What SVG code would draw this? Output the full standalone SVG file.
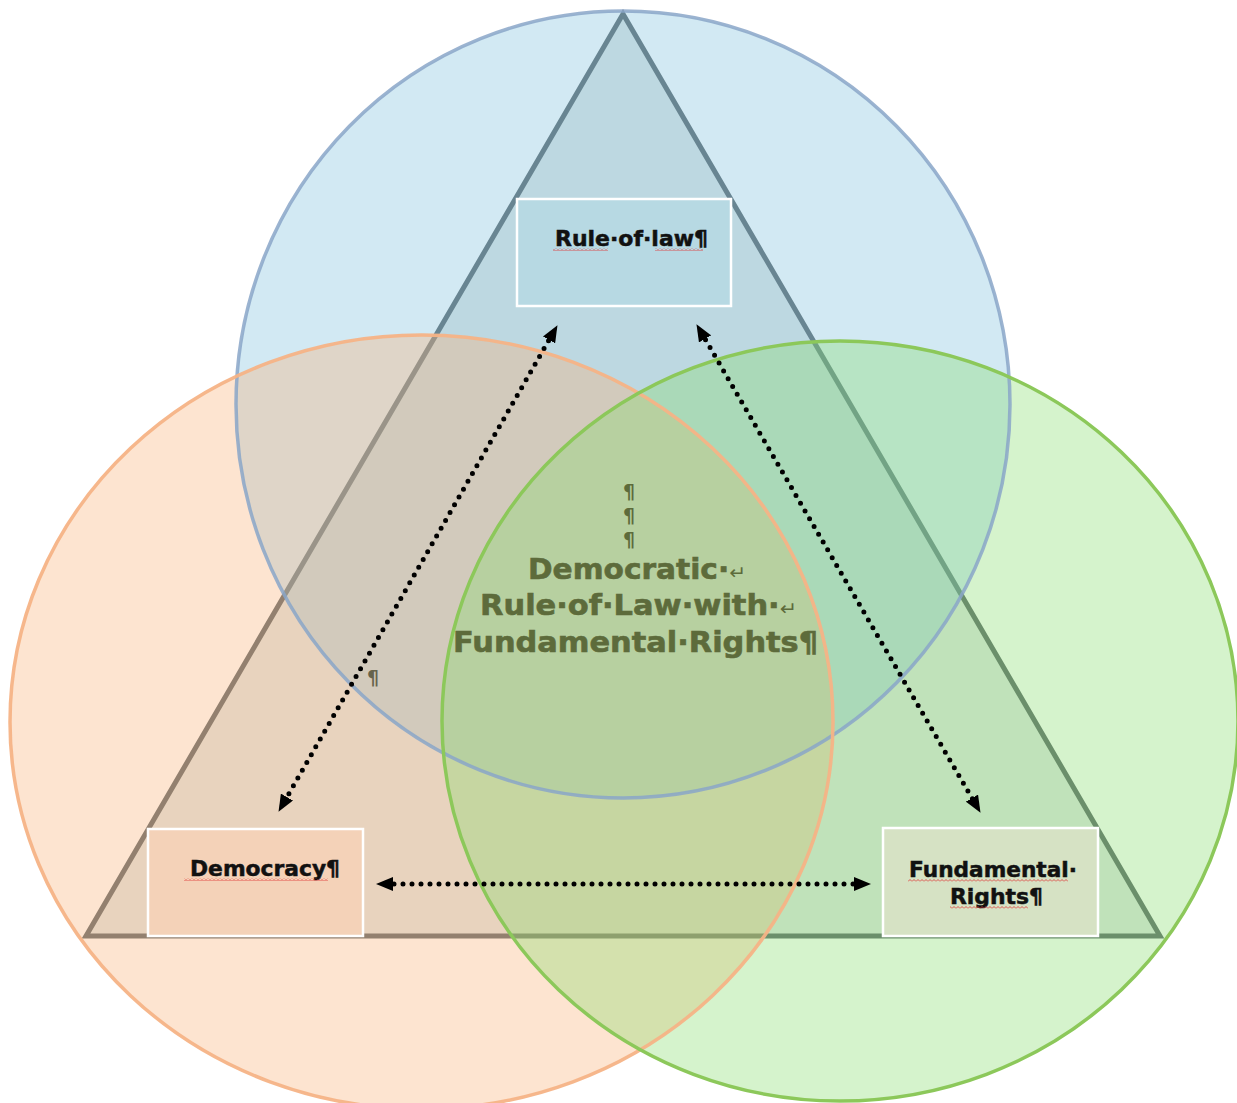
<svg xmlns="http://www.w3.org/2000/svg" width="1237" height="1103" viewBox="0 0 1237 1103">
  <style>
    .cfill { fill-opacity: 0.35; stroke: none; }
    .cline { fill: none; stroke-width: 3.5; }
    .box { stroke: #ffffff; stroke-width: 2.5; }
    .lbl { font-family: "DejaVu Sans", Verdana, sans-serif; font-weight: bold; font-size: 21px; fill: #111111; stroke: #111111; stroke-width: 0.5; }
    .ctr { font-family: "DejaVu Sans", Verdana, sans-serif; font-weight: bold; font-size: 28px; fill: #5d6b3b; stroke: #5d6b3b; stroke-width: 0.6; }
    .arr { font-weight: normal; font-size: 19px; stroke-width: 0; }
    .pil { font-family: "DejaVu Sans", Verdana, sans-serif; font-weight: bold; font-size: 19px; fill: #5d6b3b; }
    .conn { fill: none; stroke: #000000; stroke-width: 5; stroke-linecap: round; stroke-dasharray: 0 9; }
  </style>
  <defs>
    <marker id="ah" viewBox="0 0 17 14" refX="8" refY="7" markerWidth="17" markerHeight="14" markerUnits="userSpaceOnUse" orient="auto-start-reverse">
      <path d="M0 0 L17 7 L0 14 Z" fill="#000000"/>
    </marker>
    <pattern id="sq" width="4" height="3" patternUnits="userSpaceOnUse">
      <path d="M0 2.5 L2 0.5 L4 2.5" fill="none" stroke="#e03030" stroke-width="0.8"/>
    </pattern>
  </defs>
  <rect width="1237" height="1103" fill="#ffffff"/>

  <g id="triangle">
    <polygon points="623,14 86,936 1160,936" fill="#dfe5e3" stroke="#5d666a" stroke-width="5" stroke-linejoin="miter"/>
  </g>

  <g id="circle-blue">
    <ellipse class="cfill" cx="623" cy="404.5" rx="387" ry="393.5" fill="#7ec0dd"/>
  </g>
  <g id="circle-orange">
    <ellipse class="cfill" cx="421.5" cy="722" rx="411.5" ry="387" fill="#f9b279"/>
  </g>
  <g id="circle-green">
    <ellipse class="cfill" cx="840" cy="721" rx="398" ry="380" fill="#86de6c"/>
  </g>
  <g id="circle-outlines">
    <ellipse class="cline" cx="623" cy="404.5" rx="387" ry="393.5" stroke="#8aa6c8" stroke-opacity="0.85"/>
    <ellipse class="cline" cx="421.5" cy="722" rx="411.5" ry="387" stroke="#f5b386" stroke-opacity="0.95"/>
    <ellipse class="cline" cx="840" cy="721" rx="398" ry="380" stroke="#8cc85a" stroke-width="4"/>
  </g>

  <g id="connectors">
    <line class="conn" x1="553" y1="333" x2="283" y2="804" marker-start="url(#ah)" marker-end="url(#ah)"/>
    <line class="conn" x1="701" y1="332" x2="976" y2="805" marker-start="url(#ah)" marker-end="url(#ah)"/>
    <line class="conn" x1="385" y1="884" x2="862" y2="884" marker-start="url(#ah)" marker-end="url(#ah)"/>
  </g>

  <g id="node-rule-of-law">
    <rect class="box" x="517" y="199" width="214" height="107" fill="#b7d9e3"/>
    <text class="lbl" x="555" y="246" textLength="153" lengthAdjust="spacingAndGlyphs">Rule·of·law¶</text>
    <rect x="553" y="248" width="55" height="3" fill="url(#sq)"/>
    <rect x="655" y="248" width="48" height="3" fill="url(#sq)"/>
  </g>

  <g id="node-democracy">
    <rect class="box" x="148" y="829" width="215" height="107" fill="#f4d2b8"/>
    <text class="lbl" x="190" y="876" textLength="150" lengthAdjust="spacingAndGlyphs">Democracy¶</text>
    <rect x="184" y="878" width="144" height="3" fill="url(#sq)"/>
  </g>

  <g id="node-fundamental-rights">
    <rect class="box" x="883" y="828" width="215" height="108" fill="#d6e2c4"/>
    <text class="lbl" x="909" y="877" textLength="168" lengthAdjust="spacingAndGlyphs">Fundamental·</text>
    <text class="lbl" x="950" y="904" textLength="93" lengthAdjust="spacingAndGlyphs">Rights¶</text>
    <rect x="908" y="879" width="160" height="3" fill="url(#sq)"/>
    <rect x="950" y="906" width="78" height="3" fill="url(#sq)"/>
  </g>

  <g id="node-center">
    <text class="pil" x="623" y="498">¶</text>
    <text class="pil" x="623" y="522">¶</text>
    <text class="pil" x="623" y="546">¶</text>
    <text class="ctr" x="528" y="579" textLength="218" lengthAdjust="spacingAndGlyphs">Democratic·<tspan class="arr">↵</tspan></text>
    <text class="ctr" x="480" y="615" textLength="317" lengthAdjust="spacingAndGlyphs">Rule·of·Law·with·<tspan class="arr">↵</tspan></text>
    <text class="ctr" x="453" y="652" textLength="365" lengthAdjust="spacingAndGlyphs">Fundamental·Rights¶</text>
  </g>

  <g id="mark-pilcrow">
    <text x="367" y="684" font-family="DejaVu Sans, sans-serif" font-weight="bold" font-size="19" fill="#66644c">¶</text>
  </g>
</svg>
